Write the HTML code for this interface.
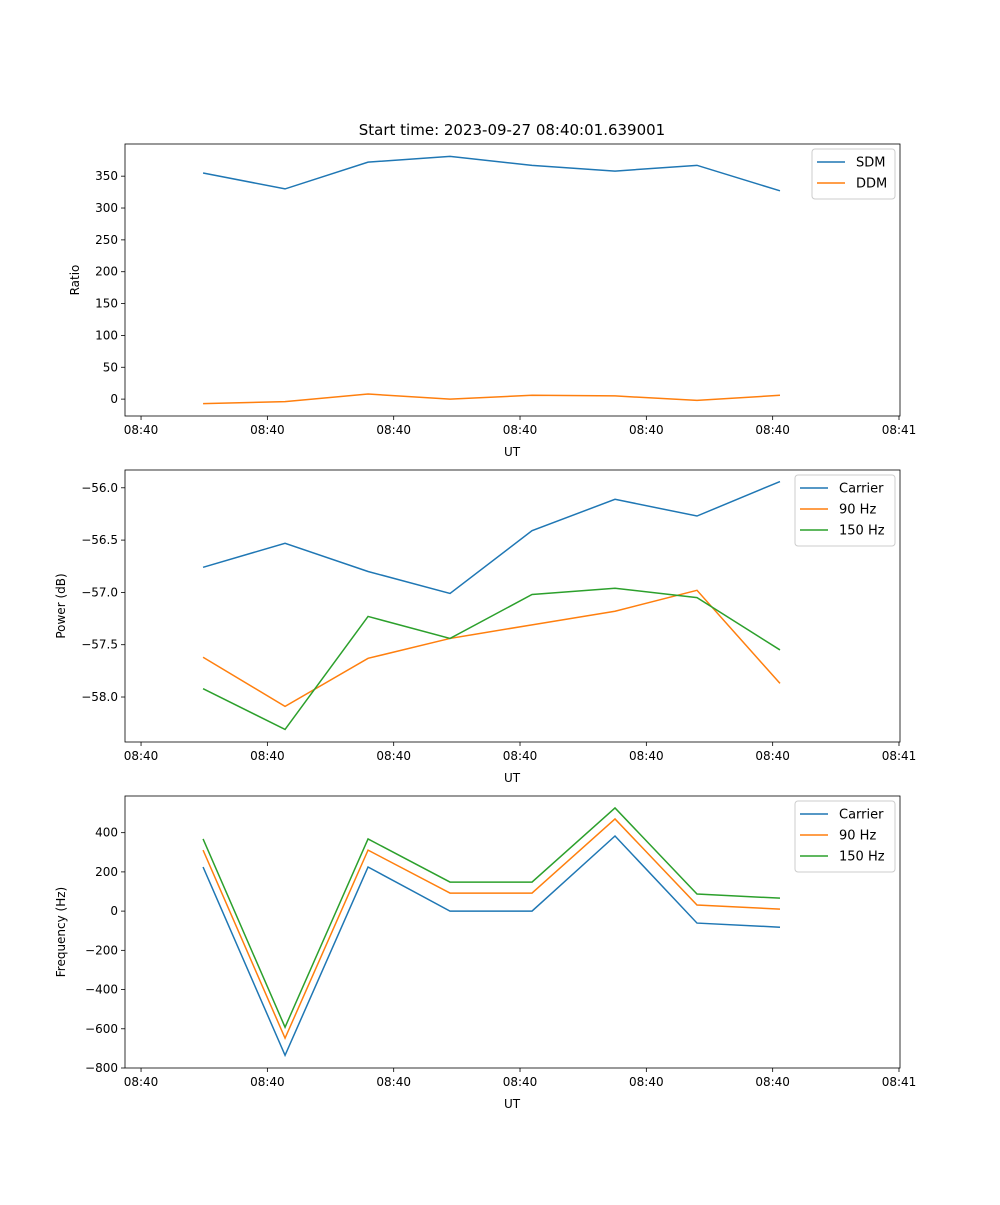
<!DOCTYPE html>
<html><head><meta charset="utf-8"><style>
body{margin:0;background:#fff;}
svg text{font-family:"DejaVu Sans","Liberation Sans",sans-serif;fill:#000;}
</style></head><body>
<svg id="c" width="1000" height="1200" xmlns="http://www.w3.org/2000/svg"></svg>
<script>
const xTicks = [0,1,2,3,4,5,6];
const xTickLabels = ["08:40","08:40","08:40","08:40","08:40","08:40","08:41"];
const times = [0.491,1.140,1.797,2.446,3.095,3.752,4.401,5.058];
const sdm = [355,330,372,381,367,358,367,327];
const ddm = [-7,-4,8,0,6,5,-2,6];
const pwrCarrier = [-56.76,-56.53,-56.80,-57.01,-56.41,-56.11,-56.27,-55.94];
const pwr90 = [-57.62,-58.09,-57.63,-57.44,-57.31,-57.18,-56.98,-57.87];
const pwr150 = [-57.92,-58.31,-57.23,-57.44,-57.02,-56.96,-57.05,-57.55];
const frqCarrier = [225,-735,225,0,0,383,-61,-82];
const frq90 = [311,-648,311,92,92,470,31,10];
const frq150 = [368,-592,368,148,148,526,87,66];
const ticks1 = [0,50,100,150,200,250,300,350];
const ticks2 = [-58.0,-57.5,-57.0,-56.5,-56.0];
const ticks3 = [-800,-600,-400,-200,0,200,400];

const NS="http://www.w3.org/2000/svg";
const svg=document.getElementById('c');
function mk(tag,attrs,parent,name){const e=document.createElementNS(NS,tag);for(const k in attrs)e.setAttribute(k,attrs[k]);


(parent||svg).appendChild(e);return e;}
const L=125,R=900,X0=-0.127,X1=6.008;
const sx=v=>L+(v-X0)/(X1-X0)*(R-L);
const colors=["#1f77b4","#ff7f0e","#2ca02c"];
function panel(top,ymin,ymax,yticks,fmt,ylabel,series,names,legW,pname){
  const bot=top+272;
  const g=mk('g',{},svg,pname);
  const sy=v=>bot-(v-ymin)/(ymax-ymin)*272;
  series.forEach((s,i)=>{
    mk('polyline',{points:s.map((v,j)=>sx(times[j])+','+sy(v)).join(' '),fill:'none',stroke:colors[i],'stroke-width':1.5},g,'series-'+names[i].toLowerCase().replace(/ /g,'-'));
  });
  mk('rect',{x:L,y:top,width:R-L,height:272,fill:'none',stroke:'#000','stroke-width':0.8},g,'plot-frame');
  xTicks.forEach((t,i)=>{const x=sx(t);
    mk('line',{x1:x,x2:x,y1:bot,y2:bot+4,stroke:'#000','stroke-width':0.8},g,'x-tick');
    const tx=mk('text',{x:x,y:bot+18,'font-size':12,'text-anchor':'middle'},g,'x-tick-label');tx.textContent=xTickLabels[i];});
  yticks.forEach(t=>{const y=sy(t);
    mk('line',{x1:L-4,x2:L,y1:y,y2:y,stroke:'#000','stroke-width':0.8},g,'y-tick');
    const tx=mk('text',{x:L-7,y:y+4,'font-size':12,'text-anchor':'end'},g,'y-tick-label');tx.textContent=fmt(t);});
  const xl=mk('text',{x:512,y:bot+40,'font-size':12,'text-anchor':'middle'},g,'x-axis-title');xl.textContent='UT';
  const yl=mk('text',{x:0,y:0,'font-size':12,'text-anchor':'middle',transform:`translate(${pname==='ratio-panel'?79:65},${top+136}) rotate(-90)`},g,'y-axis-title');yl.textContent=ylabel;
  const lx=R-5-legW, ly=top+5, lh=8+names.length*21;
  const lg=mk('g',{},g,'legend');
  mk('rect',{x:lx,y:ly,width:legW,height:lh,rx:3,fill:'#fff',stroke:'#ccc'},lg,'legend-box');
  names.forEach((n,i)=>{const y=ly+13+i*21;
    mk('line',{x1:lx+5,x2:lx+33,y1:y,y2:y,stroke:colors[i],'stroke-width':1.5},lg,'legend-swatch');
    const t=mk('text',{x:lx+44,y:y+4.5,'font-size':13},lg,'legend-entry');t.textContent=n;});
}
const tt=mk('text',{x:512,y:135,'font-size':15,'text-anchor':'middle'},svg,'chart-title');tt.textContent='Start time: 2023-09-27 08:40:01.639001';
panel(144,-26.5,400.5,ticks1,v=>String(v),'Ratio',[sdm,ddm],['SDM','DDM'],83,'ratio-panel');
panel(470,-58.43,-55.83,ticks2,v=>(v<0?'\u2212':'')+Math.abs(v).toFixed(1),'Power (dB)',[pwrCarrier,pwr90,pwr150],['Carrier','90 Hz','150 Hz'],100,'power-panel');
panel(796,-800,587,ticks3,v=>(v<0?'\u2212':'')+Math.abs(v),'Frequency (Hz)',[frqCarrier,frq90,frq150],['Carrier','90 Hz','150 Hz'],100,'frequency-panel');
</script>
</body></html>
